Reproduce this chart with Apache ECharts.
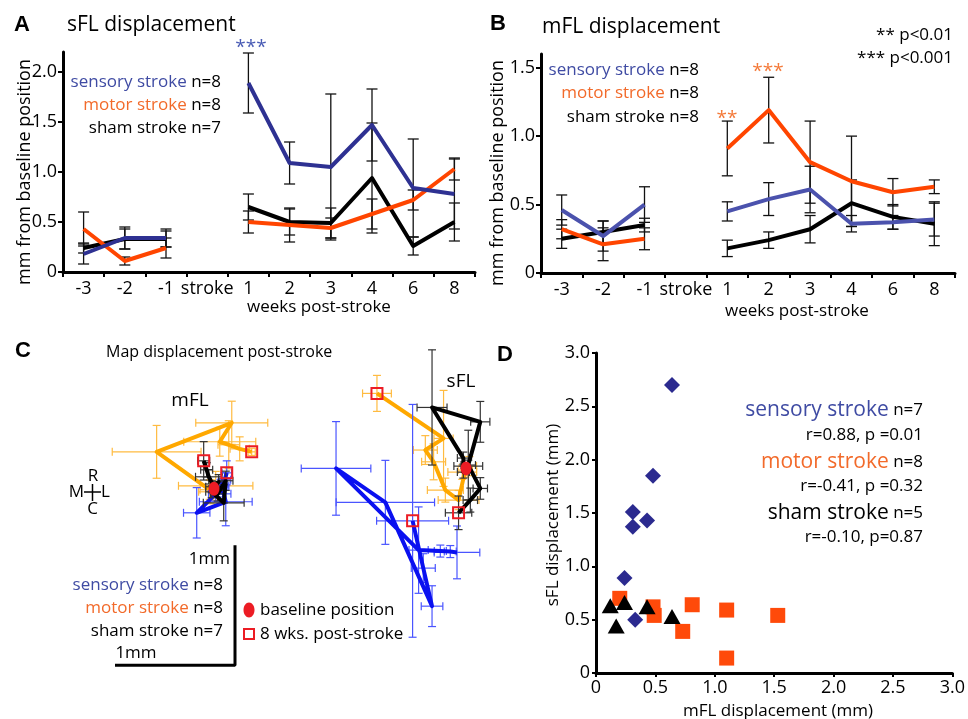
<!DOCTYPE html>
<html>
<head>
<meta charset="utf-8">
<script src="https://cdn.jsdelivr.net/npm/echarts@6.0.0/dist/echarts.min.js"></script>
<style>
  html, body { margin: 0; padding: 0; background: #fff; }
  #main { width: 968px; height: 719px; }
</style>
</head>
<body>
<div id="main"></div>
<script>
const FONT = "Open Sans";

// A / B: weekly displacement (mm), mean and error
const weeks = ["-3", "-2", "-1", "stroke", "1", "2", "3", "4", "6", "8"];

const sflSensory = [0.18, 0.34, 0.34, null, 1.89, 1.09, 1.05, 1.47, 0.84, 0.78];
const sflSensoryErr = [0.10, 0.11, 0.09, null, 0.30, 0.21, 0.73, 0.36, 0.49, 0.35];
const sflMotor = [0.43, 0.11, 0.24, null, 0.50, 0.47, 0.44, 0.58, 0.72, 1.03];
const sflMotorErr = [0.17, 0.04, 0.10, null, 0.11, 0.17, 0.10, 0.15, 0.10, 0.11];
const sflSham = [0.24, 0.33, 0.33, null, 0.65, 0.50, 0.49, 0.94, 0.26, 0.50];
const sflShamErr = [0.05, 0.10, 0.08, null, 0.13, 0.13, 0.15, 0.55, 0.09, 0.19];

const mflSensory = [0.46, 0.27, 0.50, null, 0.45, 0.54, 0.61, 0.36, 0.37, 0.39];
const mflSensoryErr = [0.11, 0.11, 0.13, null, 0.07, 0.12, 0.17, 0.06, 0.05, 0.12];
const mflMotor = [0.32, 0.21, 0.25, null, 0.91, 1.19, 0.81, 0.67, 0.59, 0.63];
const mflMotorErr = [0.07, 0.12, 0.08, null, 0.20, 0.24, 0.30, 0.33, 0.10, 0.05];
const mflSham = [0.25, 0.30, 0.35, null, 0.18, 0.24, 0.32, 0.51, 0.41, 0.36];
const mflShamErr = [0.07, 0.08, 0.05, null, 0.06, 0.06, 0.10, 0.17, 0.09, 0.16];

const yTicksA = [0, 0.5, 1, 1.5, 2];
const yTicksB = [0, 0.5, 1, 1.5];

// C: map positions (mm). rows = [dx, dy, errX, errY] for weeks -3,-2,-1,1,2,3,4,6,8
const mflBase = [0.95, 1.51];
const sflBase = [3.05, 1.68];

const mapMflMotor = [
  [0.014, 0.025, 0.31, 0.12], [-0.028, -0.025, 0.10, 0.10], [-0.036, -0.008, 0.08, 0.08],
  [-0.478, 0.308, 0.37, 0.22], [0.148, 0.55, 0.30, 0.18], [0.048, 0.392, 0.30, 0.12],
  [0.123, 0.367, 0.09, 0.20], [0.214, 0.333, 0.08, 0.10], [0.314, 0.308, 0.03, 0.03]
];
const mapMflSham = [
  [-0.019, 0.017, 0.05, 0.05], [0.039, 0.058, 0.06, 0.06], [-0.019, -0.025, 0.05, 0.05],
  [0.081, -0.117, 0.17, 0.15], [0.098, 0.067, 0.06, 0.08], [0.031, -0.042, 0.06, 0.06],
  [-0.044, 0.10, 0.11, 0.06], [-0.061, 0.158, 0.05, 0.06], [-0.086, 0.233, 0.05, 0.16]
];
const mapMflSensory = [
  [0.031, -0.008, 0.06, 0.06], [0.064, 0.025, 0.06, 0.06], [0.014, -0.042, 0.06, 0.06],
  [-0.144, -0.20, 0.11, 0.21], [0.098, -0.108, 0.22, 0.20], [0.081, -0.042, 0.06, 0.08],
  [0.056, 0.017, 0.06, 0.06], [0.089, 0.075, 0.05, 0.06], [0.106, 0.133, 0.04, 0.10]
];
const mapSflMotor = [
  [-0.031, -0.031, 0.12, 0.06], [0.028, 0.019, 0.06, 0.08], [-0.006, -0.014, 0.06, 0.06],
  [-0.062, -0.264, 0.17, 0.08], [-0.172, -0.181, 0.15, 0.10], [-0.27, 0.055, 0.10, 0.15],
  [-0.339, 0.153, 0.10, 0.12], [-0.187, 0.25, 0.08, 0.40], [-0.742, 0.625, 0.12, 0.15]
];
const mapSflSham = [
  [0.019, 0.019, 0.12, 0.05], [-0.022, -0.031, 0.05, 0.05], [-0.022, 0.086, 0.05, 0.05],
  [-0.283, 0.508, 0.125, 0.48], [0.119, 0.388, 0.08, 0.17], [0.019, 0.028, 0.06, 0.29],
  [0.119, -0.167, 0.06, 0.09], [0.036, -0.264, 0.06, 0.10], [-0.062, -0.37, 0.11, 0.14]
];
const mapSflSensory = [
  [-0.075, -0.70, 0.19, 0.22], [-0.131, -0.693, 0.05, 0.05], [-0.214, -0.689, 0.05, 0.05],
  [-0.395, -0.681, 0.08, 0.36], [-1.083, 0.0, 0.29, 0.39], [-0.672, -0.283, 0.41, 0.35],
  [-0.283, -1.148, 0.09, 0.17], [-0.356, -0.831, 0.10, 0.12], [-0.445, -0.437, 0.30, 0.97]
];
const scaleBar = [[0.125, 0.04], [1.125, 0.04], [1.125, 1.04]];

// D: mFL vs sFL displacement (mm)
const dSensory = [[0.64, 2.70], [0.48, 1.85], [0.31, 1.51], [0.31, 1.37], [0.43, 1.43], [0.24, 0.89], [0.33, 0.50]];
const dMotor = [[0.20, 0.70], [0.48, 0.62], [0.49, 0.54], [0.81, 0.64], [0.73, 0.39], [1.10, 0.59], [1.10, 0.14], [1.53, 0.54]];
const dSham = [[0.12, 0.63], [0.17, 0.44], [0.24, 0.66], [0.43, 0.62], [0.64, 0.53]];

const BLUE_A = "#2e3192", BLUE_B = "#4b52ad", BLUE_T = "#3f4ba3";
const ORANGE = "#ff4500", ORANGE_T = "#f26a2a";
const MAP_ORANGE = "#ffa800", MAP_ORANGE_E = "#ffbb40";
const MAP_BLUE = "#0a10f0", MAP_BLUE_E = "#4a55ff";
const RED = "#ec1c24";

function errData(vals, errs) {
  return vals.map((v, i) => v == null ? null : [i, v - errs[i], v + errs[i]]).filter(Boolean);
}

function catErr(params, api) {
  const i = api.value(0);
  const lo = api.coord([i, api.value(1)]);
  const hi = api.coord([i, api.value(2)]);
  const w = 5.5, st = { stroke: "#111", lineWidth: 1.3 };
  return {
    type: "group",
    children: [
      { type: "line", shape: { x1: hi[0], y1: hi[1], x2: lo[0], y2: lo[1] }, style: st },
      { type: "line", shape: { x1: hi[0] - w, y1: hi[1], x2: hi[0] + w, y2: hi[1] }, style: st },
      { type: "line", shape: { x1: lo[0] - w, y1: lo[1], x2: lo[0] + w, y2: lo[1] }, style: st }
    ]
  };
}

function xyErr(color) {
  return function (params, api) {
    const x = api.value(0), y = api.value(1), ex = api.value(2), ey = api.value(3);
    const l = api.coord([x - ex, y]), r = api.coord([x + ex, y]);
    const t = api.coord([x, y + ey]), b = api.coord([x, y - ey]);
    const w = 4, st = { stroke: color, lineWidth: 1.2 };
    return {
      type: "group",
      children: [
        { type: "line", shape: { x1: l[0], y1: l[1], x2: r[0], y2: r[1] }, style: st },
        { type: "line", shape: { x1: l[0], y1: l[1] - w, x2: l[0], y2: l[1] + w }, style: st },
        { type: "line", shape: { x1: r[0], y1: r[1] - w, x2: r[0], y2: r[1] + w }, style: st },
        { type: "line", shape: { x1: t[0], y1: t[1], x2: b[0], y2: b[1] }, style: st },
        { type: "line", shape: { x1: t[0] - w, y1: t[1], x2: t[0] + w, y2: t[1] }, style: st },
        { type: "line", shape: { x1: b[0] - w, y1: b[1], x2: b[0] + w, y2: b[1] }, style: st }
      ]
    };
  };
}

function mapPoints(rows, base) {
  return rows.map(r => [base[0] + r[0], base[1] + r[1], r[2], r[3]]);
}

function lineSeries(grid, data, color, z) {
  return {
    type: "line", xAxisIndex: grid, yAxisIndex: grid, data,
    connectNulls: false, showSymbol: false, symbol: "none", z: z || 3,
    lineStyle: { color, width: 4, join: "round" }
  };
}

function errSeries(grid, data, render, z) {
  return {
    type: "custom", xAxisIndex: grid, yAxisIndex: grid, data,
    renderItem: render, z: z || 2, clip: false,
    encode: { x: 0, y: [1, 2] }
  };
}

function mapTrack(rows, base, color, errColor, zLine) {
  const pts = mapPoints(rows, base);
  return [
    errSeries(2, pts, xyErr(errColor), zLine - 1),
    lineSeries(2, pts.map(p => [p[0], p[1]]), color, zLine)
  ];
}

const catAxis = (grid) => ({
  type: "category", gridIndex: grid, data: weeks, boundaryGap: true,
  axisLine: { lineStyle: { color: "#000", width: 3 } },
  axisTick: { show: true, length: 5, lineStyle: { color: "#000", width: 2 } },
  axisLabel: { color: "#000", fontSize: 18, fontFamily: FONT, margin: 8, interval: 0 },
  splitLine: { show: false }
});

const valAxis = (grid, max, ticks) => ({
  type: "value", gridIndex: grid, min: 0, max,
  axisLine: { show: true, lineStyle: { color: "#000", width: 3 } },
  axisTick: { show: true, length: 5, customValues: ticks, lineStyle: { color: "#000", width: 2 } },
  axisLabel: {
    color: "#000", fontSize: 18, fontFamily: FONT, margin: 6, customValues: ticks,
    formatter: v => v === 0 ? "0" : v.toFixed(1)
  },
  splitLine: { show: false }
});

const dAxis = (grid) => ({
  type: "value", gridIndex: grid, min: 0, max: 3, interval: 0.5,
  axisLine: { show: true, onZero: false, lineStyle: { color: "#000", width: 3 } },
  axisTick: { show: true, length: 4, lineStyle: { color: "#000", width: 2 } },
  axisLabel: {
    color: "#000", fontSize: 18, fontFamily: FONT, margin: 6,
    formatter: v => v === 0 ? "0" : v.toFixed(1)
  },
  splitLine: { show: false }
});

function txt(x, y, text, o) {
  const st = Object.assign({
    text, fontFamily: FONT, fontSize: 17, fill: "#000",
    align: "left", verticalAlign: "middle"
  }, o || {});
  st.textAlign = st.align;
  st.textVerticalAlign = st.verticalAlign;
  const el = { type: "text", x, y, style: st, z: 50 };
  if (st.rotation) { el.rotation = st.rotation; delete st.rotation; }
  return el;
}

function legendLine(x, y, name, n, color, size) {
  return txt(x, y, "{c|" + name + "} " + n, {
    align: "right", fontSize: 17,
    rich: { c: { fill: color, color: color, fontSize: size || 17, fontFamily: FONT } }
  });
}

const bold = { fontFamily: "Liberation Sans", fontWeight: "bold", fontSize: 22 };

const graphic = [
  // panel A
  txt(14, 25, "A", bold),
  txt(67, 25, "sFL displacement", { fontSize: 21 }),
  txt(251, 48, "***", { align: "center", fill: "#4a5cb5", fontSize: 19 }),
  legendLine(221, 82, "sensory stroke", "n=8", BLUE_T),
  legendLine(221, 105, "motor stroke", "n=8", ORANGE_T),
  legendLine(221, 128, "sham stroke", "n=7", "#000"),
  txt(25, 172, "mm from baseline position", { align: "center", fontSize: 18, rotation: Math.PI / 2 }),
  txt(319, 307, "weeks post-stroke", { align: "center" }),

  // panel B
  txt(490, 24, "B", bold),
  txt(542, 27, "mFL displacement", { fontSize: 21 }),
  txt(953, 35, "** p<0.01", { align: "right" }),
  txt(953, 58, "*** p<0.001", { align: "right" }),
  legendLine(699, 70, "sensory stroke", "n=8", BLUE_T),
  legendLine(699, 93, "motor stroke", "n=8", ORANGE_T),
  legendLine(699, 117, "sham stroke", "n=8", "#000"),
  txt(727, 119, "**", { align: "center", fill: "#f47a3a", fontSize: 19 }),
  txt(768, 72, "***", { align: "center", fill: "#f47a3a", fontSize: 19 }),
  txt(498, 173, "mm from baseline position", { align: "center", fontSize: 18, rotation: Math.PI / 2 }),
  txt(797, 311, "weeks post-stroke", { align: "center" }),

  // panel C
  txt(15, 351, "C", bold),
  txt(106, 352, "Map displacement post-stroke", { fontSize: 16 }),
  txt(190, 401, "mFL", { align: "center", fontSize: 19 }),
  txt(461, 382, "sFL", { align: "center", fontSize: 19 }),
  txt(93, 476, "R", { align: "center" }),
  txt(84, 492, "M", { align: "right" }),
  txt(101, 492, "L", { align: "left" }),
  txt(92.5, 509, "C", { align: "center" }),
  { type: "line", shape: { x1: 84, y1: 492, x2: 101, y2: 492 }, style: { stroke: "#000", lineWidth: 1.5 } },
  { type: "line", shape: { x1: 92.5, y1: 484, x2: 92.5, y2: 501 }, style: { stroke: "#000", lineWidth: 1.5 } },
  txt(230, 559, "1mm", { align: "right" }),
  txt(136, 653, "1mm", { align: "center" }),
  legendLine(223, 585, "sensory stroke", "n=8", BLUE_T),
  legendLine(223, 608, "motor stroke", "n=8", ORANGE_T),
  legendLine(223, 631, "sham stroke", "n=7", "#000"),
  { type: "ellipse", shape: { cx: 249, cy: 610, rx: 5.5, ry: 7.5 }, style: { fill: RED } },
  txt(260, 610, "baseline position"),
  { type: "rect", shape: { x: 244, y: 629, width: 10, height: 10 }, style: { fill: "none", stroke: RED, lineWidth: 2 } },
  txt(260, 634, "8 wks. post-stroke"),

  // panel D
  txt(497, 355, "D", bold),
  txt(553, 515, "sFL displacement (mm)", { align: "center", rotation: Math.PI / 2 }),
  txt(778, 711, "mFL displacement (mm)", { align: "center" }),
  legendLine(923, 410, "sensory stroke", "n=7", BLUE_T, 21),
  txt(923, 435, "r=0.88, p =0.01", { align: "right" }),
  legendLine(923, 462, "motor stroke", "n=8", ORANGE_T, 21),
  txt(923, 486, "r=-0.41, p =0.32", { align: "right" }),
  legendLine(923, 513, "sham stroke", "n=5", "#000", 21),
  txt(923, 537, "r=-0.10, p=0.87", { align: "right" })
];

const mapLast = (rows, base) => { const r = rows[rows.length - 1]; return [base[0] + r[0], base[1] + r[1]]; };

const series = [
  // A
  errSeries(0, errData(sflSensory, sflSensoryErr), catErr),
  errSeries(0, errData(sflMotor, sflMotorErr), catErr),
  errSeries(0, errData(sflSham, sflShamErr), catErr),
  lineSeries(0, sflSham, "#000", 3),
  lineSeries(0, sflMotor, ORANGE, 4),
  lineSeries(0, sflSensory, BLUE_A, 5),
  // B
  errSeries(1, errData(mflSensory, mflSensoryErr), catErr),
  errSeries(1, errData(mflMotor, mflMotorErr), catErr),
  errSeries(1, errData(mflSham, mflShamErr), catErr),
  lineSeries(1, mflSham, "#000", 3),
  lineSeries(1, mflSensory, BLUE_B, 4),
  lineSeries(1, mflMotor, ORANGE, 5),
  // C
  ...mapTrack(mapMflMotor, mflBase, MAP_ORANGE, MAP_ORANGE_E, 3),
  ...mapTrack(mapMflSensory, mflBase, MAP_BLUE, MAP_BLUE_E, 5),
  ...mapTrack(mapMflSham, mflBase, "#000", "#333", 7),
  ...mapTrack(mapSflMotor, sflBase, MAP_ORANGE, MAP_ORANGE_E, 3),
  ...mapTrack(mapSflSensory, sflBase, MAP_BLUE, MAP_BLUE_E, 5),
  ...mapTrack(mapSflSham, sflBase, "#000", "#333", 7),
  {
    type: "scatter", xAxisIndex: 2, yAxisIndex: 2, z: 10,
    data: [mflBase, sflBase], symbol: "circle", symbolSize: [11, 14],
    itemStyle: { color: RED, opacity: 1 }
  },
  {
    type: "scatter", xAxisIndex: 2, yAxisIndex: 2, z: 11,
    data: [mapMflMotor, mapMflSensory, mapMflSham].map(r => mapLast(r, mflBase))
      .concat([mapSflMotor, mapSflSensory, mapSflSham].map(r => mapLast(r, sflBase))),
    symbol: "rect", symbolSize: 11,
    itemStyle: { color: "rgba(0,0,0,0)", borderColor: RED, borderWidth: 2, opacity: 1 }
  },
  {
    type: "line", xAxisIndex: 2, yAxisIndex: 2, data: scaleBar, showSymbol: false,
    symbol: "none", clip: false, lineStyle: { color: "#000", width: 3 }, z: 3
  },
  // D
  {
    type: "scatter", xAxisIndex: 3, yAxisIndex: 3, data: dMotor,
    symbol: "rect", symbolSize: 15, itemStyle: { color: "#ff4a0a", opacity: 1 }, z: 3
  },
  {
    type: "scatter", xAxisIndex: 3, yAxisIndex: 3, data: dSensory,
    symbol: "diamond", symbolSize: [16, 16], itemStyle: { color: "#2b2a8f", opacity: 1 }, z: 4
  },
  {
    type: "scatter", xAxisIndex: 3, yAxisIndex: 3, data: dSham,
    symbol: "triangle", symbolSize: [17, 15], itemStyle: { color: "#000", opacity: 1 }, z: 5
  }
];

const chart = echarts.init(document.getElementById("main"));
chart.setOption({
  animation: false,
  backgroundColor: "#fff",
  textStyle: { fontFamily: FONT },
  grid: [
    { left: 63, top: 52, width: 412, height: 220 },
    { left: 541, top: 54, width: 414, height: 219 },
    { left: 100, top: 340, width: 420, height: 330 },
    { left: 596, top: 353, width: 361, height: 320 }
  ],
  xAxis: [
    catAxis(0),
    catAxis(1),
    { type: "value", gridIndex: 2, min: 0, max: 3.5, show: false },
    dAxis(3)
  ],
  yAxis: [
    valAxis(0, 2.2, yTicksA),
    valAxis(1, 1.6, yTicksB),
    { type: "value", gridIndex: 2, min: 0, max: 2.75, show: false },
    dAxis(3)
  ],
  graphic,
  series
});
window.addEventListener("resize", () => chart.resize());
</script>
</body>
</html>
